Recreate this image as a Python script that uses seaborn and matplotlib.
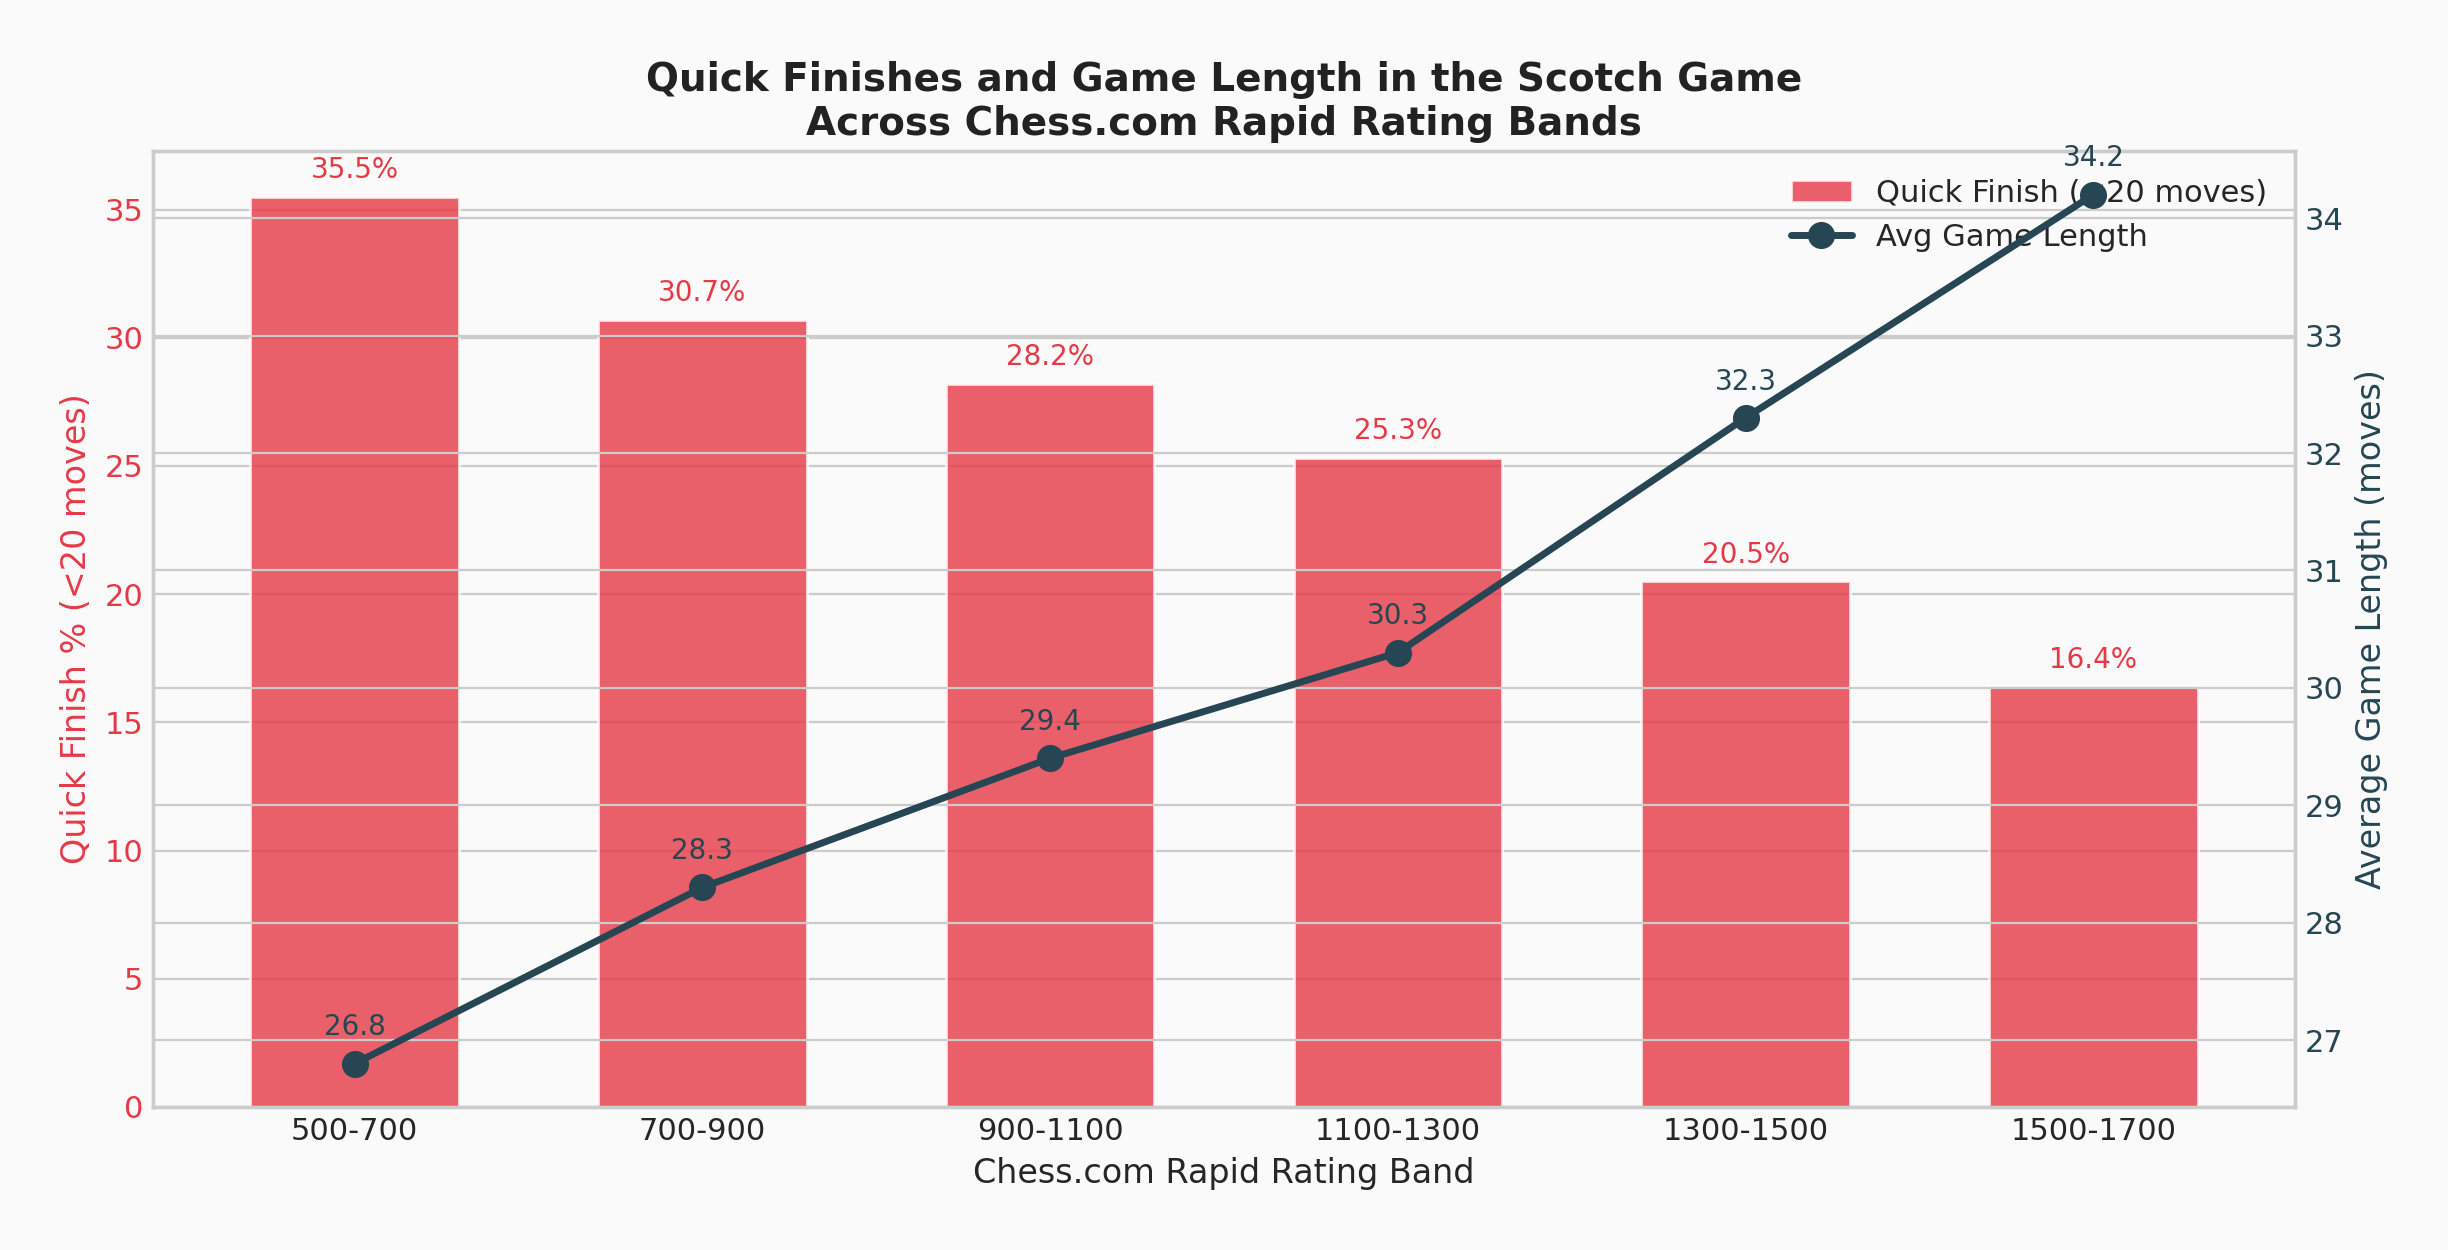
import numpy as np
import matplotlib
matplotlib.use("Agg")
import matplotlib.pyplot as plt
import seaborn as sns

bands = ["500-700", "700-900", "900-1100", "1100-1300", "1300-1500", "1500-1700"]
quick_finish = [35.5, 30.7, 28.2, 25.3, 20.5, 16.4]
avg_length = [26.8, 28.3, 29.4, 30.3, 32.3, 34.2]

red = "#E63946"
navy = "#264653"
bg = "#fafafa"

sns.set_style("whitegrid", {"axes.facecolor": bg, "figure.facecolor": bg,
                            "grid.color": "#cccccc", "axes.edgecolor": "#cccccc"})
plt.rcParams['font.family'] = ['DejaVu Sans']

fig, ax1 = plt.subplots(figsize=(12.24, 6.25), dpi=200)
fig.subplots_adjust(left=0.0625, right=0.9375, top=0.879, bottom=0.1144)

bar_w = 0.6
sns.barplot(x=bands, y=quick_finish, color=red, alpha=0.8, width=bar_w,
            saturation=1, ax=ax1, zorder=2)
for i, v in enumerate(quick_finish):
    ax1.text(i, v + 0.5, f"{v}%", ha="center", va="bottom", fontsize=10, color=red)

ax1.set_ylim(0, max(quick_finish) * 1.05)
ax1.set_ylabel("Quick Finish % (<20 moves)", fontsize=12, color=red)
ax1.set_xlabel("Chess.com Rapid Rating Band", fontsize=12, color="#262626")
ax1.tick_params(axis="y", labelcolor=red, labelsize=11, length=0)
ax1.tick_params(axis="x", labelcolor="#262626", labelsize=11, length=0)

ax2 = ax1.twinx()
x = np.arange(len(bands))
sns.lineplot(x=x, y=avg_length, color=navy, linewidth=2.5, marker="o",
             markersize=9, markeredgecolor=navy, ax=ax2, zorder=3)
for i, v in enumerate(avg_length):
    ax2.annotate(f"{v}", (i, v), xytext=(0, 8), textcoords="offset points",
                 ha="center", va="bottom", fontsize=10, color=navy)
ax2.set_ylabel("Average Game Length (moves)", fontsize=12, color=navy)
ax2.tick_params(axis="y", labelcolor=navy, labelsize=11, length=0)

pad = 0.05 * (len(bands) - 1 + bar_w)
ax1.set_xlim(-bar_w / 2 - pad, len(bands) - 1 + bar_w / 2 + pad)

for ax in (ax1, ax2):
    for s in ax.spines.values():
        s.set_color("#cccccc")
        s.set_linewidth(1.2)

handles = [ax1.patches[0], ax2.lines[0]]
ax1.legend(handles, ["Quick Finish (<20 moves)", "Avg Game Length"],
           loc="upper right", fontsize=11, frameon=False)

ax1.set_title("Quick Finishes and Game Length in the Scotch Game\nAcross Chess.com Rapid Rating Bands",
              fontsize=14, fontweight="bold", color="#222222")

fig.savefig("out.png", dpi=200, facecolor=bg)
